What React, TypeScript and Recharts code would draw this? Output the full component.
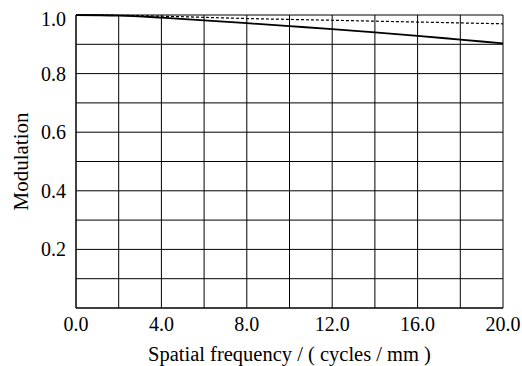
import { LineChart, Line, XAxis, YAxis, CartesianGrid, Label } from 'recharts';

const frequency = [0, 2, 4, 6, 8, 10, 12, 14, 16, 18, 20];
const solidMtf = [1.0, 0.998, 0.991, 0.982, 0.972, 0.962, 0.952, 0.941, 0.929, 0.916, 0.903];
const dottedMtf = [1.0, 0.999, 0.996, 0.992, 0.988, 0.985, 0.982, 0.979, 0.976, 0.973, 0.970];

const xTicks = [0, 2, 4, 6, 8, 10, 12, 14, 16, 18, 20];
const yTicks = [0, 0.1, 0.2, 0.3, 0.4, 0.5, 0.6, 0.7, 0.8, 0.9, 1.0];

const data = frequency.map((f, i) => ({ f, solid: solidMtf[i], dotted: dottedMtf[i] }));

const font = '"Liberation Serif", "Times New Roman", serif';
const textStyle = { fontFamily: font, fontSize: 20, fill: '#000' };

function XTick({ x, y, payload }: any) {
  const v = payload.value as number;
  if (v % 4 !== 0) return null;
  return (
    <text x={x} y={y + 15} textAnchor="middle" style={textStyle}>
      {v.toFixed(1)}
    </text>
  );
}

function YTick({ x, y, payload }: any) {
  const v = payload.value as number;
  const r = Math.round(v * 10);
  if (r === 0 || r % 2 !== 0) return null;
  return (
    <text x={x} y={y + (r === 10 ? 11 : 7)} textAnchor="end" style={textStyle}>
      {v.toFixed(1)}
    </text>
  );
}

export default function App() {
  return (
    <div style={{ position: 'absolute', left: 0, top: 0, width: 522, height: 366, background: '#fff', fontFamily: font }}>
      <LineChart width={522} height={366} data={data} margin={{ top: 15, right: 19, bottom: 4, left: 16 }}>
        <CartesianGrid stroke="#000" strokeWidth={1} horizontalValues={yTicks} verticalValues={xTicks} />
        <XAxis
          dataKey="f"
          type="number"
          domain={[0, 20]}
          ticks={xTicks}
          interval={0}
          height={54}
          axisLine={{ stroke: '#000' }}
          tickLine={false}
          tick={<XTick />}
          tickMargin={2}
        >
          <Label
            value="Spatial frequency / ( cycles / mm )"
            position="insideBottom"
            offset={1}
            style={{ fontFamily: font, fontSize: 20.5, fill: '#000' }}
          />
        </XAxis>
        <YAxis
          type="number"
          domain={[0, 1]}
          ticks={yTicks}
          interval={0}
          width={60}
          axisLine={{ stroke: '#000' }}
          tickLine={false}
          tick={<YTick />}
          tickMargin={4}
        >
          <Label
            value="Modulation"
            angle={-90}
            position="insideLeft"
            offset={5}
            style={{ fontFamily: font, fontSize: 21, fill: '#000', textAnchor: 'middle' }}
          />
        </YAxis>
        <Line dataKey="dotted" type="monotone" stroke="#000" strokeWidth={1.2} strokeDasharray="3 2" dot={false} isAnimationActive={false} />
        <Line dataKey="solid" type="monotone" stroke="#000" strokeWidth={1.8} dot={false} isAnimationActive={false} />
      </LineChart>
    </div>
  );
}
